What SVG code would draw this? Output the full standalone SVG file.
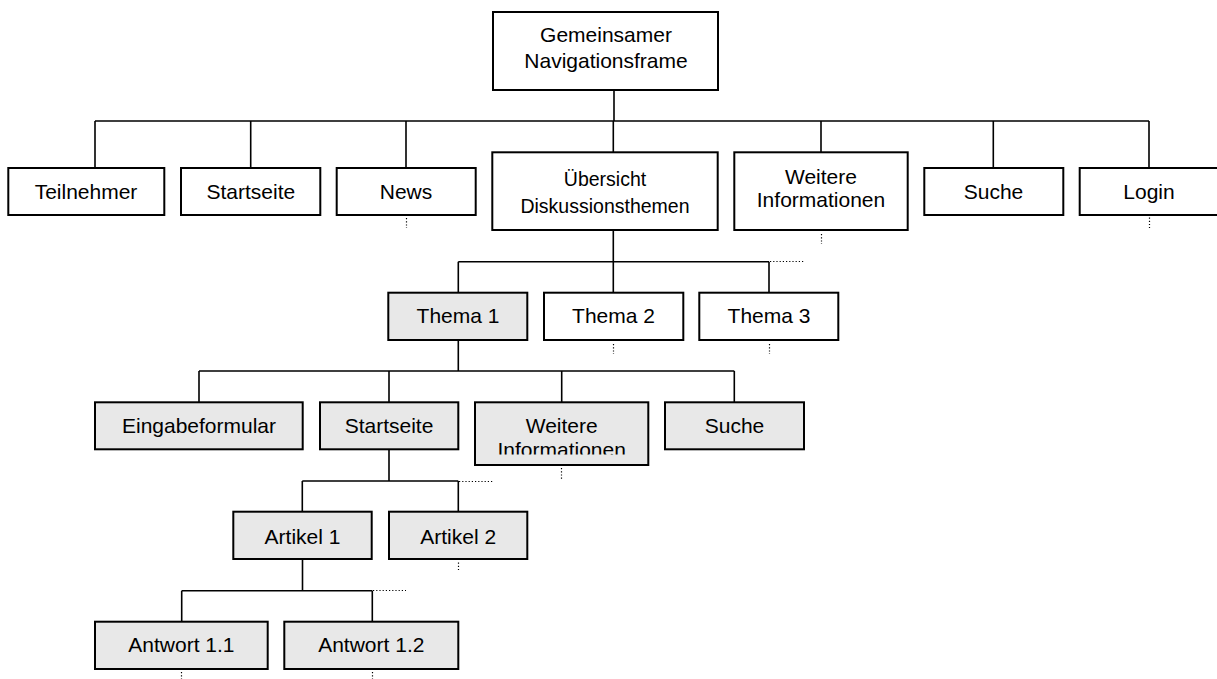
<svg xmlns="http://www.w3.org/2000/svg" width="1217" height="679" viewBox="0 0 1217 679">
<style>
.b{fill:#fff;stroke:#000;stroke-width:2}
.g{fill:#e8e8e8;stroke:#000;stroke-width:2}
.t{font-family:"Liberation Sans",Arial,sans-serif;font-size:21px;fill:#000;text-anchor:middle}
.n{font-size:19.5px}
.c{fill:none;stroke:#000;stroke-width:1.6}
.d{fill:none;stroke:#000;stroke-width:1.2;stroke-dasharray:1.2 2}
</style>
<defs>
<clipPath id="clipW"><rect x="470" y="400" width="185" height="54.5"/></clipPath>
</defs>
<rect width="1217" height="679" fill="#fff"/>
<g id="connectors">
<path class="c" d="M614 90V121M95 121H1149M95 121V168M250.7 121V168M406 121V168M613.3 121V152M821 121V152M993.3 121V168M1149 121V168"/>
<path class="c" d="M613.3 230V261.7M458.3 261.7H769M458.3 261.7V293M613.3 261.7V293M769 261.7V293"/>
<path class="c" d="M458.3 340V371M199 371H734.3M199 371V402M389 371V402M561.7 371V402M734.3 371V402"/>
<path class="c" d="M389 449V481M302.3 481H458.3M302.3 481V512M458.3 481V512"/>
<path class="c" d="M302.5 559V590.7M181.7 590.7H372.3M181.7 590.7V622M372.3 590.7V622"/>
<path class="d" d="M406.5 218V228M821.5 234V244M1149.5 217.5V228M770 261.5H804M613.5 344V354M769.5 344V354M561.5 468V479M459 481.5H493M458.5 562.5V572M373 590.5H406M181.5 672V679M372.5 672V679"/>
</g>
<g id="n0"><rect class="b" x="493" y="12" width="225" height="78"/><text class="t" x="606" y="41.7">Gemeinsamer</text><text class="t" x="606" y="68.3">Navigationsframe</text></g>
<g id="n1"><rect class="b" x="8.3" y="168" width="156" height="47"/><text class="t" x="86" y="199.3">Teilnehmer</text></g>
<g id="n2"><rect class="b" x="181" y="168" width="139.3" height="47"/><text class="t" x="250.8" y="199.3">Startseite</text></g>
<g id="n3"><rect class="b" x="336.7" y="168" width="139" height="47"/><text class="t" x="406" y="199.3">News</text></g>
<g id="n4"><rect class="b" x="492.3" y="152.3" width="225.4" height="77.7"/><text class="t n" x="605" y="186">Übersicht</text><text class="t n" x="605" y="213">Diskussionsthemen</text></g>
<g id="n5"><rect class="b" x="734.3" y="152.3" width="173.4" height="77.7"/><text class="t" x="821" y="184">Weitere</text><text class="t" x="821" y="207">Informationen</text></g>
<g id="n6"><rect class="b" x="924.3" y="168" width="139" height="47"/><text class="t" x="993.5" y="199.3">Suche</text></g>
<g id="n7"><rect class="b" x="1079.7" y="168" width="145" height="47"/><text class="t" x="1149" y="199.3">Login</text></g>
<g id="n8"><rect class="g" x="388.3" y="292.7" width="139" height="47.3"/><text class="t" x="458" y="323.3">Thema 1</text></g>
<g id="n9"><rect class="b" x="544" y="292.7" width="139.3" height="47.3"/><text class="t" x="613.5" y="323.3">Thema 2</text></g>
<g id="n10"><rect class="b" x="699.3" y="292.7" width="139" height="47.3"/><text class="t" x="769" y="323.3">Thema 3</text></g>
<g id="n11"><rect class="g" x="95" y="402.3" width="207.7" height="47"/><text class="t" x="199" y="433.3">Eingabeformular</text></g>
<g id="n12"><rect class="g" x="320" y="402.3" width="138.3" height="47"/><text class="t" x="389" y="433.3">Startseite</text></g>
<g id="n13"><rect class="g" x="475" y="402.3" width="173.3" height="62.7"/><g clip-path="url(#clipW)"><text class="t" x="561.7" y="433.3">Weitere</text><text class="t" x="561.7" y="457">Informationen</text></g></g>
<g id="n14"><rect class="g" x="665" y="402.3" width="139" height="47"/><text class="t" x="734.5" y="433.3">Suche</text></g>
<g id="n15"><rect class="g" x="233.3" y="511.7" width="138.4" height="47.3"/><text class="t" x="302.5" y="544">Artikel 1</text></g>
<g id="n16"><rect class="g" x="389" y="511.7" width="138.3" height="47.3"/><text class="t" x="458.2" y="544">Artikel 2</text></g>
<g id="n17"><rect class="g" x="95" y="621.7" width="172.7" height="47.3"/><text class="t" x="181.4" y="651.7">Antwort 1.1</text></g>
<g id="n18"><rect class="g" x="284.3" y="621.7" width="174" height="47.3"/><text class="t" x="371.3" y="651.7">Antwort 1.2</text></g>
</svg>
